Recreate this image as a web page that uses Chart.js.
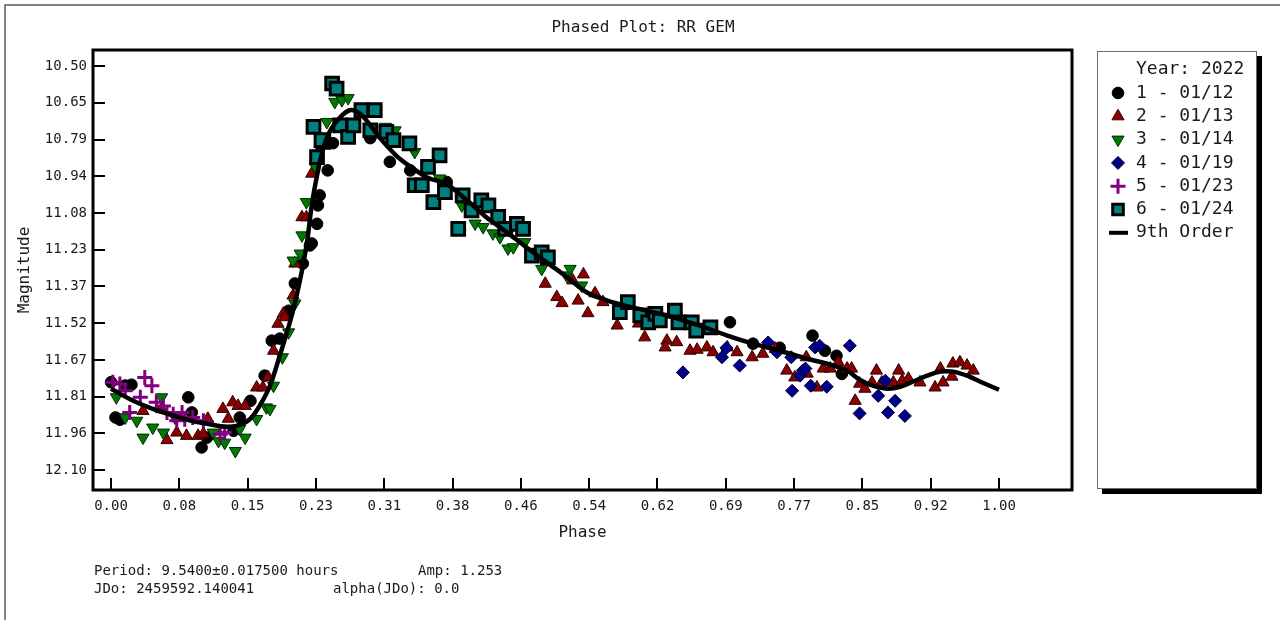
<!DOCTYPE html>
<html>
<head>
<meta charset="utf-8">
<title>Phased Plot: RR GEM</title>
<script src="https://cdn.jsdelivr.net/npm/chart.js@4.4.1/dist/chart.umd.min.js"></script>
<style>
  html, body { margin: 0; padding: 0; background: #fff; }
  #wrap { width: 1280px; height: 620px; }
</style>
</head>
<body>
<div id="wrap"><canvas id="phasePlot" width="1280" height="620"></canvas></div>
<script>
// Phased light curve of RR Gem, one series per night (phase, magnitude)
const titleText = 'Phased Plot: RR GEM';
const legendTitle = 'Year: 2022';
const footerLines = [
    ['Period: 9.5400\u00b10.017500 hours', 'Amp: 1.253'],
    ['JDo: 2459592.140041', 'alpha(JDo): 0.0']
];

const xTicks = [0, 0.0769, 0.1538, 0.2308, 0.3077, 0.3846, 0.4615, 0.5385, 0.6154, 0.6923, 0.7692, 0.8462, 0.9231, 1.0];
const xTickLabels = ['0.00', '0.08', '0.15', '0.23', '0.31', '0.38', '0.46', '0.54', '0.62', '0.69', '0.77', '0.85', '0.92', '1.00'];
const yTicks = [10.5, 10.6458, 10.7917, 10.9375, 11.0833, 11.2292, 11.3748, 11.5208, 11.6667, 11.8125, 11.9583, 12.1042];
const yTickLabels = ['10.50', '10.65', '10.79', '10.94', '11.08', '11.23', '11.37', '11.52', '11.67', '11.81', '11.96', '12.10'];

// 1 - 01/12
const n1Phase = [0.000, 0.023, 0.005, 0.010, 0.016, 0.087, 0.091, 0.102, 0.108, 0.138, 0.145, 0.157, 0.173, 0.181, 0.190, 0.200, 0.207,
    0.216, 0.224, 0.226, 0.232, 0.233, 0.235, 0.244, 0.250, 0.292, 0.314, 0.337, 0.374, 0.378, 0.697, 0.723, 0.753, 0.790, 0.804, 0.817, 0.823];
const n1Mag = [11.755, 11.765, 11.895, 11.904, 11.768, 11.815, 11.875, 12.014, 11.975, 11.948, 11.895, 11.829, 11.729, 11.590, 11.582, 11.471, 11.363,
    11.284, 11.212, 11.204, 11.126, 11.053, 11.013, 10.914, 10.806, 10.786, 10.880, 10.914, 10.965, 10.960, 11.517, 11.602, 11.618, 11.570, 11.630, 11.650, 11.722];

// 2 - 01/13
const n2Phase = [0.036, 0.057, 0.063, 0.074, 0.085, 0.098, 0.104, 0.109, 0.126, 0.132, 0.137, 0.143, 0.151, 0.164, 0.171, 0.177, 0.183, 0.188,
    0.194, 0.196, 0.205, 0.207, 0.215, 0.220, 0.226, 0.489, 0.502, 0.508, 0.520, 0.532, 0.526, 0.537, 0.545, 0.554, 0.570, 0.594, 0.601,
    0.626, 0.624, 0.637, 0.652, 0.660, 0.671, 0.678, 0.694, 0.705, 0.722, 0.734, 0.748, 0.761, 0.770, 0.783, 0.784, 0.795, 0.802, 0.810,
    0.819, 0.829, 0.834, 0.838, 0.843, 0.849, 0.857, 0.862, 0.868, 0.881, 0.887, 0.891, 0.898, 0.911, 0.928, 0.934, 0.937, 0.947, 0.948,
    0.956, 0.964, 0.971];
const n2Mag = [11.869, 11.862, 11.985, 11.955, 11.968, 11.968, 11.960, 11.900, 11.861, 11.900, 11.835, 11.849, 11.849, 11.776, 11.776, 11.736, 11.630, 11.523,
    11.483, 11.497, 11.411, 11.284, 11.100, 11.100, 10.927, 11.364, 11.417, 11.441, 11.351, 11.327, 11.431, 11.481, 11.402, 11.437, 11.530, 11.522, 11.577,
    11.590, 11.617, 11.596, 11.630, 11.626, 11.617, 11.636, 11.617, 11.636, 11.656, 11.642, 11.622, 11.709, 11.736, 11.656, 11.721, 11.776, 11.701, 11.701,
    11.676, 11.701, 11.701, 11.829, 11.761, 11.781, 11.756, 11.709, 11.756, 11.756, 11.709, 11.749, 11.741, 11.756, 11.776, 11.701, 11.756, 11.733, 11.681,
    11.676, 11.689, 11.709];

// 3 - 01/14
const n3Phase = [0.006, 0.016, 0.029, 0.036, 0.047, 0.057, 0.059, 0.072, 0.115, 0.121, 0.128, 0.140, 0.145, 0.151, 0.164, 0.175, 0.179, 0.183,
    0.193, 0.200, 0.207, 0.205, 0.213, 0.215, 0.220, 0.230, 0.243, 0.252, 0.260, 0.267, 0.309, 0.320, 0.342, 0.370, 0.395, 0.410, 0.419,
    0.430, 0.438, 0.447, 0.453, 0.466, 0.485, 0.513, 0.517, 0.530];
const n3Mag = [11.815, 11.895, 11.908, 11.975, 11.935, 11.815, 11.955, 11.895, 11.955, 11.988, 11.995, 12.028, 11.940, 11.975, 11.901, 11.855, 11.861, 11.769,
    11.656, 11.557, 11.443, 11.272, 11.244, 11.172, 11.040, 10.900, 10.722, 10.642, 10.635, 10.627, 10.741, 10.755, 10.841, 10.946, 11.053, 11.125, 11.139,
    11.164, 11.179, 11.224, 11.219, 11.199, 11.305, 11.331, 11.305, 11.371];

// 4 - 01/19
const n4Phase = [0.644, 0.688, 0.693, 0.708, 0.740, 0.750, 0.766, 0.767, 0.776, 0.779, 0.782, 0.788, 0.793, 0.798, 0.806, 0.832, 0.843,
    0.864, 0.872, 0.875, 0.883, 0.894];
const n4Mag = [11.716, 11.656, 11.619, 11.689, 11.597, 11.636, 11.656, 11.789, 11.729, 11.709, 11.701, 11.769, 11.617, 11.610, 11.773, 11.610, 11.879,
    11.809, 11.749, 11.875, 11.829, 11.889];

// 5 - 01/23
const n5Phase = [0.002, 0.010, 0.016, 0.021, 0.033, 0.038, 0.046, 0.051, 0.059, 0.063, 0.070, 0.074, 0.080, 0.083, 0.092, 0.104, 0.123, 0.128];
const n5Mag = [11.755, 11.762, 11.789, 11.875, 11.815, 11.736, 11.769, 11.835, 11.849, 11.875, 11.882, 11.908, 11.875, 11.902, 11.895, 11.908, 11.962, 11.955];

// 6 - 01/24
const n6Phase = [0.249, 0.254, 0.228, 0.239, 0.232, 0.237, 0.258, 0.267, 0.273, 0.282, 0.297, 0.292, 0.310, 0.318, 0.336, 0.370, 0.357, 0.342,
    0.350, 0.363, 0.376, 0.391, 0.396, 0.406, 0.417, 0.425, 0.436, 0.444, 0.457, 0.464, 0.474, 0.485, 0.492, 0.573, 0.582, 0.596, 0.605,
    0.613, 0.618, 0.635, 0.639, 0.654, 0.659, 0.675];
const n6Mag = [10.569, 10.589, 10.741, 10.801, 10.861, 10.794, 10.735, 10.781, 10.735, 10.675, 10.675, 10.755, 10.761, 10.794, 10.807, 10.854, 10.900, 10.973,
    10.973, 11.040, 11.000, 11.146, 11.013, 11.073, 11.033, 11.053, 11.099, 11.146, 11.126, 11.146, 11.252, 11.239, 11.259, 11.477, 11.437, 11.490, 11.517,
    11.484, 11.510, 11.471, 11.517, 11.517, 11.550, 11.537];

// 9th order fit
const fitPhase = [0.000, 0.025, 0.044, 0.063, 0.086, 0.108, 0.131, 0.145, 0.157, 0.168, 0.179, 0.190, 0.202, 0.209, 0.215, 0.221, 0.226, 0.232,
    0.239, 0.247, 0.258, 0.269, 0.280, 0.292, 0.303, 0.322, 0.340, 0.356, 0.378, 0.401, 0.423, 0.446, 0.468, 0.491, 0.514, 0.536, 0.559,
    0.588, 0.618, 0.663, 0.694, 0.723, 0.753, 0.784, 0.810, 0.829, 0.843, 0.858, 0.874, 0.889, 0.903, 0.919, 0.934, 0.948, 0.964, 0.979, 1.000];
const fitMag = [11.781, 11.829, 11.857, 11.880, 11.904, 11.920, 11.932, 11.924, 11.900, 11.845, 11.769, 11.650, 11.510, 11.411, 11.312, 11.192, 11.053, 10.934,
    10.826, 10.755, 10.703, 10.675, 10.687, 10.735, 10.786, 10.858, 10.906, 10.942, 10.969, 11.033, 11.101, 11.160, 11.220, 11.280, 11.339, 11.399, 11.431,
    11.459, 11.483, 11.530, 11.570, 11.602, 11.630, 11.662, 11.685, 11.709, 11.745, 11.769, 11.781, 11.773, 11.753, 11.729, 11.713, 11.713, 11.729, 11.753, 11.785];

const toPoints = (xs, ys) => xs.map((x, i) => ({ x: x, y: ys[i] }));

const MONO = "'DejaVu Sans Mono', 'Liberation Mono', monospace";
Chart.defaults.font.family = MONO;
Chart.defaults.font.size = 14;
Chart.defaults.color = '#1a1a1a';

const datasets = [
    { label: '1 - 01/12', data: toPoints(n1Phase, n1Mag), pointStyle: 'circle', pointRadius: 5.8,
      backgroundColor: '#000', borderColor: '#000', pointBorderWidth: 1, order: 6 },
    { label: '2 - 01/13', data: toPoints(n2Phase, n2Mag), pointStyle: 'triangle', pointRadius: 7,
      backgroundColor: '#8b0000', borderColor: '#300000', pointBorderWidth: 1, order: 5 },
    { label: '3 - 01/14', data: toPoints(n3Phase, n3Mag), pointStyle: 'triangle', pointRotation: 180, pointRadius: 7,
      backgroundColor: '#007a00', borderColor: '#002a00', pointBorderWidth: 1, order: 4 },
    { label: '4 - 01/19', data: toPoints(n4Phase, n4Mag), pointStyle: 'rectRot', pointRadius: 6.5,
      backgroundColor: '#00008b', borderColor: '#000030', pointBorderWidth: 1, order: 3 },
    { label: '5 - 01/23', data: toPoints(n5Phase, n5Mag), pointStyle: 'cross', pointRadius: 7.5,
      backgroundColor: '#800080', borderColor: '#800080', pointBorderWidth: 3, order: 2 },
    { label: '6 - 01/24', data: toPoints(n6Phase, n6Mag), pointStyle: 'rect', pointRadius: 9,
      backgroundColor: '#008080', borderColor: '#000', pointBorderWidth: 3, order: 1 },
    { label: '9th Order', data: toPoints(fitPhase, fitMag), showLine: true, pointRadius: 0, pointStyle: 'line',
      borderColor: '#000', backgroundColor: '#000', borderWidth: 4.5, tension: 0.3, order: 0 }
];

// frame, tick marks, title, legend box and footer notes
const decorations = {
    id: 'decorations',
    beforeDraw(chart) {
        const ctx = chart.ctx;
        ctx.save();
        ctx.fillStyle = '#fff';
        ctx.fillRect(0, 0, chart.width, chart.height);
        ctx.strokeStyle = '#5a5a5a';
        ctx.lineWidth = 1.5;
        ctx.beginPath();
        ctx.moveTo(5, chart.height);
        ctx.lineTo(5, 5);
        ctx.lineTo(chart.width, 5);
        ctx.stroke();
        ctx.font = '16px ' + MONO;
        ctx.fillStyle = '#1a1a1a';
        ctx.textAlign = 'center';
        ctx.textBaseline = 'middle';
        ctx.fillText(titleText, 643, 28);
        ctx.restore();
    },
    beforeDatasetsDraw(chart) {
        const { ctx, chartArea: a, scales } = chart;
        ctx.save();
        ctx.strokeStyle = '#000';
        ctx.lineWidth = 2;
        ctx.beginPath();
        scales.x.ticks.forEach(t => {
            const px = Math.round(scales.x.getPixelForValue(t.value));
            ctx.moveTo(px, a.bottom);
            ctx.lineTo(px, a.bottom - 12);
        });
        scales.y.ticks.forEach(t => {
            const py = Math.round(scales.y.getPixelForValue(t.value));
            ctx.moveTo(a.left, py);
            ctx.lineTo(a.left + 12, py);
        });
        ctx.stroke();
        ctx.restore();
    },
    afterDraw(chart) {
        const { ctx, chartArea: a } = chart;
        ctx.save();
        // plot frame
        ctx.strokeStyle = '#000';
        ctx.lineWidth = 3;
        ctx.strokeRect(a.left, a.top, a.right - a.left, a.bottom - a.top);

        // legend box with drop shadow
        const bx = 1097, by = 51, bw = 160, bh = 438;
        ctx.fillStyle = '#000';
        ctx.fillRect(bx + 5, by + 5, bw, bh);
        ctx.fillStyle = '#fff';
        ctx.fillRect(bx, by, bw, bh);
        ctx.strokeStyle = '#6a6a6a';
        ctx.lineWidth = 1;
        ctx.strokeRect(bx + 0.5, by + 0.5, bw - 1, bh - 1);

        ctx.font = '18px ' + MONO;
        ctx.fillStyle = '#1a1a1a';
        ctx.textAlign = 'left';
        ctx.textBaseline = 'middle';
        ctx.fillText(legendTitle, 1136, 69);
        chart.data.datasets.forEach((ds, i) => {
            const y = 93 + i * 23.3;
            const x = 1118;
            if (ds.showLine) {
                ctx.strokeStyle = ds.borderColor;
                ctx.lineWidth = 4;
                ctx.beginPath();
                ctx.moveTo(1109, y);
                ctx.lineTo(1128, y);
                ctx.stroke();
            } else {
                ctx.fillStyle = ds.backgroundColor;
                ctx.strokeStyle = ds.borderColor;
                ctx.lineWidth = ds.pointBorderWidth;
                Chart.helpers.drawPoint(ctx, {
                    pointStyle: ds.pointStyle,
                    rotation: ds.pointRotation || 0,
                    radius: Math.min(ds.pointRadius, 7.5),
                    borderWidth: ds.pointBorderWidth
                }, x, y);
            }
            ctx.fillStyle = '#1a1a1a';
            ctx.fillText(ds.label, 1136, y);
        });

        // period / amplitude notes
        ctx.font = '14px ' + MONO;
        ctx.fillText(footerLines[0][0], 94, 571);
        ctx.fillText(footerLines[0][1], 418, 571);
        ctx.fillText(footerLines[1][0], 94, 589);
        ctx.fillText(footerLines[1][1], 333, 589);
        ctx.restore();
    }
};

new Chart(document.getElementById('phasePlot').getContext('2d'), {
    type: 'scatter',
    data: { datasets: datasets },
    options: {
        responsive: false,
        animation: false,
        events: [],
        devicePixelRatio: 1,
        layout: { padding: { left: 5, top: 50, right: 208, bottom: 70 } },
        plugins: {
            legend: { display: false },
            tooltip: { enabled: false },
            title: { display: false }
        },
        scales: {
            x: {
                type: 'linear',
                min: -0.0203,
                max: 1.0822,
                afterBuildTicks: scale => { scale.ticks = xTicks.map(v => ({ value: v })); },
                afterFit: scale => { scale.height = 60; },
                grid: { display: false, drawTicks: false, tickLength: 0 },
                border: { display: false },
                ticks: {
                    autoSkip: false,
                    maxRotation: 0,
                    padding: 8,
                    color: '#1a1a1a',
                    callback: (value, index) => xTickLabels[index]
                },
                title: { display: true, text: 'Phase', font: { size: 16 }, color: '#1a1a1a', padding: { top: 0, bottom: 8 } }
            },
            y: {
                type: 'linear',
                reverse: true,
                min: 10.436,
                max: 12.183,
                afterBuildTicks: scale => { scale.ticks = yTicks.map(v => ({ value: v })); },
                afterFit: scale => { scale.width = 88; },
                grid: { display: false, drawTicks: false, tickLength: 0 },
                border: { display: false },
                ticks: {
                    autoSkip: false,
                    padding: 6,
                    color: '#1a1a1a',
                    callback: (value, index) => yTickLabels[index]
                },
                title: { display: true, text: 'Magnitude', font: { size: 16 }, color: '#1a1a1a', padding: { top: 10, bottom: 0 } }
            }
        }
    },
    plugins: [decorations]
});
</script>
</body>
</html>
